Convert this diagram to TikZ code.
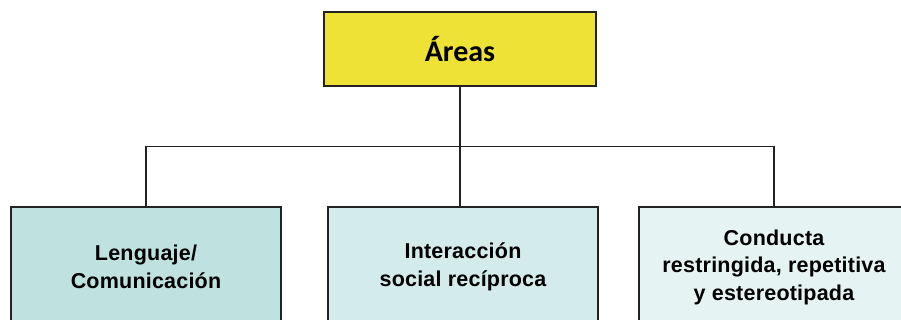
\documentclass[tikz,border=0pt]{standalone}
\usepackage{fontspec}
\setmainfont{Liberation Sans}
\newfontfamily\titlefont{Carlito}
\newfontfamily\boxfont[LetterSpace=1]{Liberation Sans}
\definecolor{areayellow}{HTML}{EFE236}
\definecolor{boxA}{HTML}{BFE1DF}
\definecolor{boxB}{HTML}{D3EBEA}
\definecolor{boxC}{HTML}{E5F3F2}
\definecolor{edge}{HTML}{222222}
\begin{document}
\begin{tikzpicture}[x=1pt,y=-1pt,
  titlebox/.style={draw=edge,line width=1.3pt,fill=areayellow,minimum width=272pt,minimum height=74pt,inner sep=0pt,font=\titlefont\bfseries\fontsize{30}{34}\selectfont},
  areabox/.style={draw=edge,line width=1.3pt,minimum width=270pt,minimum height=120pt,inner sep=0pt,align=center,font=\boxfont\bfseries\fontsize{21.5}{27.5}\selectfont},
  link/.style={draw=edge,line width=1.2pt}]
\useasboundingbox (0,0) rectangle (901,320);
\clip (0,0) rectangle (901,320);
\fill[white] (0,0) rectangle (901,320);
\node[titlebox] (top) at (460,49) {Áreas};
\node[areabox,fill=boxA] (lang) at (146,267) {Lenguaje/\\Comunicación};
\node[areabox,fill=boxB] (inter) at (463,267) {Interacción\\social recíproca};
\node[areabox,fill=boxC] (cond) at (774,267) {Conducta\\restringida, repetitiva\\y estereotipada};
\draw[link] (top.south) -- (top.south |- inter.north);
\draw[link] (lang.north) -- ++(0,-60) coordinate (busL) -| (cond.north);
\end{tikzpicture}
\end{document}
